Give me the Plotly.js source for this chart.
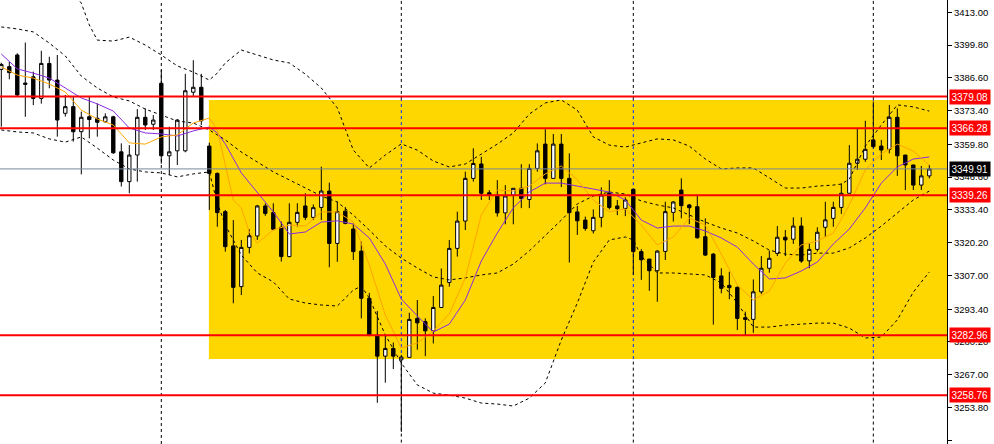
<!DOCTYPE html>
<html>
<head>
<meta charset="utf-8">
<script src="https://cdn.plot.ly/plotly-3.0.1.min.js"></script>
<style>
html,body{margin:0;padding:0;background:#fff;}
#chart{width:994px;height:444px;}
</style>
</head>
<body>
<div id="chart"></div>
<script>
// ---- candle data (bar index 0..116) ----
const open = [3390.0,3391.1,3395.8,3384.5,3387.0,3378.3,3392.4,3385.7,3372.3,3375.0,
3364.9,3370.9,3370.3,3368.9,3370.9,3356.8,3344.8,3355.5,3370.7,3367.9,
3384.4,3355.2,3357.2,3357.2,3380.8,3382.8,3359.1,3348.1,3332.7,3318.9,
3302.5,3318.3,3322.9,3335.0,3332.3,3326.4,3314.6,3328.4,3335.0,3330.4,
3334.4,3341.0,3319.9,3332.9,3325.7,3316.8,3297.8,3283.0,3274.5,3277.6,
3273.0,3274.0,3289.7,3288.4,3284.7,3294.1,3304.2,3317.9,3328.9,3346.1,
3351.9,3340.3,3339.4,3332.2,3339.4,3342.1,3337.6,3350.1,3359.9,3346.1,
3359.9,3346.1,3332.6,3329.3,3325.0,3330.4,3340.3,3335.0,3334.0,3341.7,
3316.6,3313.6,3308.9,3316.7,3332.4,3341.4,3335.4,3334.7,3322.6,3315.6,
3306.8,3303.0,3302.2,3290.0,3289.3,3300.4,3309.9,3315.9,3322.4,3321.6,
3326.9,3312.9,3317.5,3326.4,3330.0,3334.4,3340.1,3352.2,3353.8,3361.6,
3359.1,3357.8,3370.7,3355.5,3351.5,3343.4,3347.1];
const high = [3392.7,3393.1,3396.5,3400.8,3389.1,3397.5,3395.1,3395.8,3379.7,3379.0,
3373.0,3379.0,3376.3,3372.3,3371.3,3360.2,3359.5,3374.0,3374.3,3371.6,
3389.8,3366.9,3370.0,3388.2,3393.7,3388.2,3360.5,3348.5,3333.4,3329.3,
3321.3,3325.6,3335.4,3336.0,3336.1,3328.7,3336.1,3336.1,3340.1,3335.6,
3350.8,3344.4,3336.7,3334.6,3328.0,3320.6,3300.0,3292.7,3283.0,3280.0,
3275.0,3292.0,3297.1,3289.7,3298.7,3309.8,3321.3,3332.7,3348.8,3358.2,
3354.8,3341.4,3345.4,3343.4,3342.1,3351.8,3351.8,3360.2,3365.9,3364.0,
3364.0,3356.2,3335.0,3330.7,3333.6,3342.5,3345.4,3337.4,3338.5,3341.7,
3317.6,3313.6,3317.2,3336.7,3336.9,3346.1,3335.8,3339.7,3330.0,3316.0,
3309.9,3308.5,3302.6,3292.4,3305.4,3314.8,3317.0,3326.9,3325.3,3330.4,
3330.4,3319.9,3326.4,3336.7,3336.7,3344.1,3359.5,3366.3,3369.3,3377.0,
3361.6,3375.7,3374.3,3355.5,3351.5,3351.1,3351.5];
const low = [3366.9,3386.0,3379.0,3370.9,3375.6,3376.2,3382.4,3362.9,3371.0,3360.9,
3347.7,3362.2,3362.9,3368.5,3356.0,3342.8,3340.1,3344.8,3365.6,3365.6,
3352.0,3347.5,3351.5,3356.6,3378.9,3367.6,3333.4,3326.6,3316.6,3295.8,
3299.1,3315.9,3321.3,3331.0,3325.2,3312.6,3314.3,3326.7,3329.3,3329.3,
3329.3,3310.3,3312.5,3327.6,3313.2,3289.7,3282.5,3255.7,3263.8,3269.3,
3244.0,3274.0,3277.1,3274.5,3279.6,3294.1,3302.5,3314.6,3325.3,3344.8,
3337.4,3337.4,3330.7,3327.6,3327.6,3334.1,3334.1,3348.8,3343.7,3346.1,
3342.6,3312.2,3323.3,3325.0,3323.9,3326.4,3333.6,3331.3,3330.9,3307.2,
3305.2,3300.8,3296.4,3313.2,3328.7,3330.0,3327.7,3321.8,3314.8,3287.2,
3299.8,3297.4,3285.0,3283.0,3283.9,3299.5,3308.1,3314.8,3314.8,3319.7,
3312.1,3309.9,3316.6,3322.6,3326.6,3331.8,3340.1,3349.5,3352.8,3358.2,
3353.5,3356.2,3347.1,3341.4,3341.4,3341.4,3346.1];
const close = [3392.0,3388.7,3379.7,3384.0,3378.3,3392.4,3385.7,3369.6,3375.0,3364.9,
3370.7,3369.8,3368.7,3370.9,3356.4,3344.8,3355.5,3370.7,3367.6,3369.6,
3355.2,3356.8,3369.6,3381.4,3382.8,3369.3,3348.1,3332.3,3318.6,3302.2,
3318.3,3323.0,3335.0,3332.0,3325.6,3314.6,3328.4,3332.4,3330.4,3334.3,
3341.0,3319.9,3332.7,3328.0,3316.6,3297.8,3283.0,3274.5,3277.6,3274.5,
3274.1,3289.3,3287.9,3284.7,3294.1,3303.1,3317.9,3328.9,3346.1,3352.1,
3340.1,3339.4,3332.2,3339.0,3342.1,3338.0,3350.1,3357.2,3346.1,3359.9,
3346.1,3332.3,3329.0,3325.9,3330.4,3339.4,3334.4,3333.9,3337.4,3316.6,
3313.3,3308.9,3316.8,3332.7,3336.6,3335.1,3334.3,3322.2,3315.2,3306.2,
3301.8,3302.1,3289.7,3289.3,3300.4,3309.9,3313.9,3322.4,3321.3,3326.9,
3312.8,3317.5,3324.4,3329.4,3334.4,3340.1,3352.2,3353.8,3357.8,3358.9,
3357.5,3370.7,3355.2,3351.5,3343.4,3347.1,3349.9];

// ---- indicator readings (bar index, value) ----
const fastIdx = [0,2,4,6,8,10,12,14,16,18,20,22,24,26,27,28,29,30,31,32,34,36,38,40,42,44,46,48,50,52,54,56,58,60,62,64,66,68,70,72,74,76,78,80,82,84,86,88,90,92,94,96,98,100,102,104,106,108,110,112,114,116];
const fastMA = [3391.0,3387.7,3386.5,3384.1,3380.9,3373.6,3370.0,3367.6,3360.4,3359.9,3362.8,3363.6,3368.4,3370.4,3365.6,3351.5,3337.4,3334.2,3324.5,3320.0,3325.3,3327.3,3326.9,3332.6,3332.6,3328.5,3311.2,3291.1,3277.8,3279.8,3284.6,3291.5,3306.0,3331.4,3341.4,3341.0,3343.0,3347.9,3351.1,3345.5,3337.4,3332.6,3333.8,3327.3,3319.3,3322.5,3330.1,3327.3,3315.6,3303.2,3297.1,3300.7,3312.0,3319.3,3320.9,3324.1,3335.4,3349.5,3355.9,3359.9,3357.1,3351.5];

const slowIdx = [0,2,4,6,8,10,12,14,16,18,20,22,24,26,27,28,30,32,34,36,38,40,42,44,46,48,50,52,54,56,58,60,62,64,66,68,70,72,74,76,78,80,82,84,86,88,90,92,94,96,98,100,102,104,106,108,110,112,114,116];
const slowMA = [3396.2,3390.2,3388.5,3386.5,3382.5,3378.5,3376.1,3373.2,3366.4,3364.4,3364.0,3363.2,3365.2,3366.8,3364.4,3360.0,3348.3,3340.6,3332.6,3323.7,3324.5,3328.5,3329.0,3327.7,3322.1,3311.6,3297.5,3290.7,3284.2,3287.4,3297.1,3312.8,3324.1,3334.2,3340.6,3344.2,3344.2,3343.0,3341.8,3340.6,3337.4,3329.3,3326.1,3326.9,3326.9,3324.9,3322.1,3318.4,3311.6,3305.6,3306.0,3308.8,3312.4,3319.7,3325.7,3334.2,3344.2,3350.7,3353.9,3354.7];

const bbUpIdx = [8,10,11,12,14,16,18,20,22,24,26,27,28,30,32,34,36,38,40,42,44,46,48,50,52,54,56,58,60,62,64,66,68,70,72,74,76,78,80,82,84,86,88,90,92,94,96,98,100,102,104,105,106,107,108,110,112,114,116];
const bbUp = [3425.0,3416.7,3407.9,3401.8,3401.4,3403.0,3399.8,3395.8,3391.4,3388.9,3385.7,3388.5,3392.6,3397.8,3395.8,3393.8,3392.6,3388.1,3382.5,3374.5,3357.5,3350.3,3355.5,3360.0,3357.5,3353.1,3350.7,3351.9,3355.9,3359.9,3364.4,3372.0,3376.5,3377.7,3373.6,3362.8,3359.5,3358.7,3360.4,3362.0,3361.6,3359.1,3353.9,3349.9,3350.3,3350.3,3346.3,3342.2,3342.2,3343.0,3343.4,3343.8,3345.8,3352.7,3359.1,3367.6,3375.7,3374.9,3373.2];

const bbMidIdx = [0,2,4,6,8,10,12,14,16,18,20,22,24,26,28,30,32,34,36,38,40,42,44,46,48,50,52,54,56,58,60,62,64,66,68,70,72,74,76,78,80,82,84,86,88,90,92,94,96,98,100,102,104,106,108,110,112,114,116];
const bbMid = [3407.1,3406.3,3405.1,3400.6,3395.4,3387.3,3382.5,3378.9,3377.3,3374.0,3371.6,3369.2,3368.4,3365.6,3361.6,3356.7,3352.7,3348.7,3345.5,3342.2,3339.0,3336.6,3331.3,3325.3,3318.9,3314.0,3310.0,3306.4,3305.2,3306.0,3307.2,3308.0,3311.6,3316.9,3322.9,3329.3,3335.8,3339.0,3340.6,3339.8,3337.0,3335.4,3334.2,3331.3,3328.5,3326.1,3324.1,3320.9,3317.2,3315.6,3315.2,3316.0,3316.0,3318.1,3322.1,3326.9,3332.2,3337.4,3341.0];

const bbLoIdx = [0,2,4,6,8,10,12,14,16,18,20,22,24,26,27,28,30,32,34,36,38,40,42,44,45,46,48,50,52,54,56,58,60,62,64,66,68,70,72,74,76,78,79,80,82,84,86,88,90,92,94,96,98,100,102,104,106,108,110,112,114,116];
const bbLo = [3365.6,3364.8,3364.4,3362.0,3360.7,3362.8,3358.3,3353.5,3349.9,3348.7,3348.3,3346.7,3347.9,3348.7,3336.2,3327.3,3315.2,3308.0,3304.4,3297.5,3295.9,3295.1,3294.7,3301.1,3302.7,3297.9,3283.0,3271.7,3262.9,3259.6,3258.8,3257.6,3255.6,3255.2,3254.4,3257.6,3263.7,3281.0,3295.9,3312.4,3321.3,3322.5,3321.3,3314.8,3308.0,3308.0,3307.6,3307.2,3304.0,3295.9,3286.2,3286.2,3287.0,3287.4,3287.8,3287.8,3285.8,3281.8,3282.2,3289.1,3300.3,3308.4];

// ---- levels and axis labels ----
const levels = [3379.08, 3366.28, 3339.26, 3282.96, 3258.76];
const currentPrice = 3349.91;
const separators = [20, 50, 79, 109];
const tickVals = [3413.00,3399.80,3386.60,3373.40,3359.80,3346.60,3333.40,3320.20,3307.00,3293.40,3280.20,3267.00,3253.80,3240.60];
const zoneTop = 3377.7, zoneBottom = 3273.3, zoneStart = 25.95;

const barIdx = open.map((_, i) => i);
const FONT = 'Liberation Sans, Arial, sans-serif';

const dashLine = (x, y, name) => ({
  type: 'scatter', mode: 'lines', x: x, y: y, name: name,
  line: {color: '#000000', width: 1, dash: '3px,3px'}, hoverinfo: 'skip'
});

const traces = [
  {
    type: 'candlestick', x: barIdx, open: open, high: high, low: low, close: close,
    increasing: {line: {color: '#000000', width: 1}, fillcolor: '#ffffff'},
    decreasing: {line: {color: '#000000', width: 1}, fillcolor: '#000000'},
    whiskerwidth: 0, hoverinfo: 'skip'
  },
  dashLine(bbUpIdx, bbUp, 'upper'),
  dashLine(bbMidIdx, bbMid, 'middle'),
  dashLine(bbLoIdx, bbLo, 'lower'),
  {type: 'scatter', mode: 'lines', x: slowIdx, y: slowMA, line: {color: '#8A2BE2', width: 1}, hoverinfo: 'skip'},
  {type: 'scatter', mode: 'lines', x: fastIdx, y: fastMA, line: {color: '#FFA500', width: 1}, hoverinfo: 'skip'}
];

const shapes = [
  {type: 'rect', xref: 'x', yref: 'y', x0: zoneStart, x1: 118.4, y0: zoneBottom, y1: zoneTop,
   fillcolor: '#FFD700', line: {width: 0}, layer: 'below'}
];
separators.forEach(s => {
  if (s > zoneStart) {
    shapes.push({type: 'line', xref: 'x', yref: 'y', x0: s, x1: s, y0: 3230, y1: zoneBottom,
      line: {color: '#000000', width: 1, dash: '3px,3px'}, layer: 'below'});
    shapes.push({type: 'line', xref: 'x', yref: 'y', x0: s, x1: s, y0: zoneTop, y1: 3430,
      line: {color: '#000000', width: 1, dash: '3px,3px'}, layer: 'below'});
    shapes.push({type: 'line', xref: 'x', yref: 'y', x0: s, x1: s, y0: zoneBottom, y1: zoneTop,
      line: {color: 'rgb(0,40,255)', width: 1, dash: '3px,3px'}, layer: 'below'});
  } else {
    shapes.push({type: 'line', xref: 'x', yref: 'paper', x0: s, x1: s, y0: 0, y1: 1,
      line: {color: '#000000', width: 1, dash: '3px,3px'}, layer: 'below'});
  }
});
shapes.push({type: 'line', xref: 'paper', yref: 'y', x0: 0, x1: 1, y0: currentPrice, y1: currentPrice,
  line: {color: '#778899', width: 1}, layer: 'above'});
levels.forEach(v => shapes.push({type: 'line', xref: 'paper', yref: 'y', x0: 0, x1: 1, y0: v, y1: v,
  line: {color: '#FF0000', width: 2}, layer: 'above'}));

const annotations = levels.map(v => ({
  xref: 'paper', yref: 'y', x: 1, y: v, xanchor: 'left', yanchor: 'middle', xshift: 2,
  text: v.toFixed(2), showarrow: false, bgcolor: '#FF0000', borderpad: 1.5,
  font: {family: FONT, size: 10, color: '#ffffff'}
}));
annotations.push({
  xref: 'paper', yref: 'y', x: 1, y: currentPrice, xanchor: 'left', yanchor: 'middle', xshift: 2,
  text: currentPrice.toFixed(2), showarrow: false, bgcolor: '#000000', borderpad: 1.5,
  font: {family: FONT, size: 10, color: '#ffffff'}
});

const layout = {
  width: 994, height: 444,
  margin: {l: 0, r: 47, t: 0, b: 0, pad: 0},
  paper_bgcolor: '#ffffff', plot_bgcolor: '#ffffff',
  showlegend: false,
  boxgap: 0.4,
  xaxis: {range: [-0.1625, 118.21], showgrid: false, zeroline: false, showticklabels: false,
          ticks: '', showline: false, rangeslider: {visible: false}, fixedrange: true},
  yaxis: {range: [3239.11, 3417.95], side: 'right', showgrid: false, zeroline: false,
          ticks: 'outside', ticklen: 4, tickwidth: 1, tickcolor: '#000000',
          showline: true, linecolor: '#000000', linewidth: 1,
          tickvals: tickVals, ticktext: tickVals.map(v => v.toFixed(2)),
          tickfont: {family: FONT, size: 9.5, color: '#000000'}, fixedrange: true},
  shapes: shapes,
  annotations: annotations
};

Plotly.newPlot('chart', traces, layout, {displayModeBar: false, staticPlot: true});
</script>
</body>
</html>
